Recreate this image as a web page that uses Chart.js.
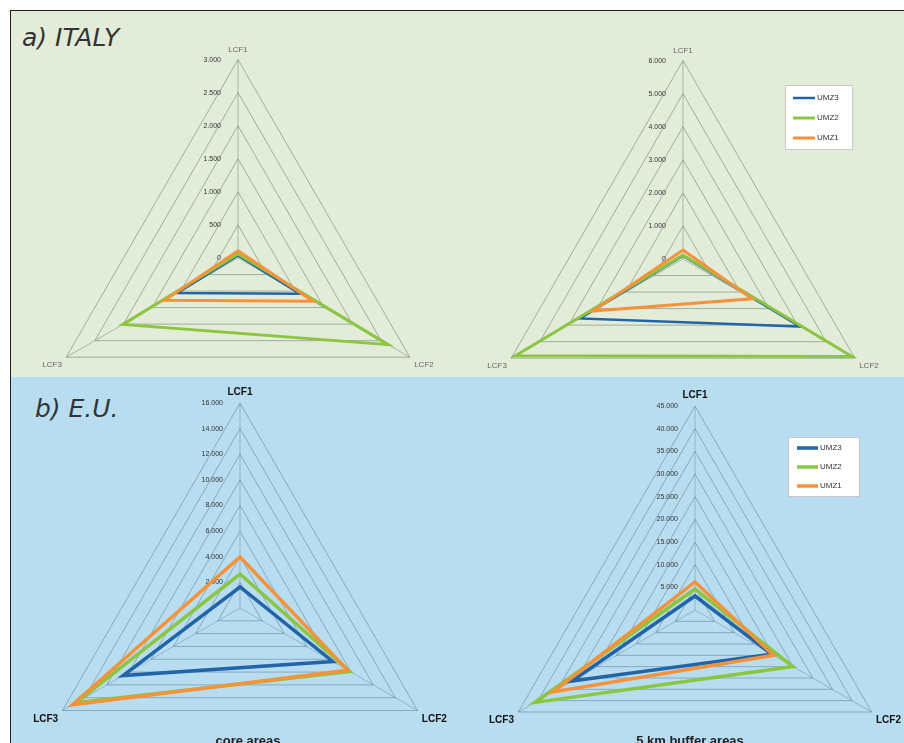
<!DOCTYPE html>
<html>
<head>
<meta charset="utf-8">
<script src="https://cdn.jsdelivr.net/npm/chart.js@4/dist/chart.umd.min.js"></script>
<style>
  html, body { margin: 0; padding: 0; background: #ffffff; }
  #fig { position: relative; width: 904px; height: 743px; overflow: hidden; background: #ffffff; }
  .panel { position: absolute; left: 10px; right: 0; }
  #panelA { top: 10px; height: 366px; background: #e2ecd9; border-top: 1px solid #222; border-left: 1px solid #222; }
  #panelB { top: 377px; bottom: 0; background: #b8ddf0; border-left: 1px solid #222; }
  .ptitle { position: absolute; font-family: "DejaVu Sans", sans-serif; font-style: italic;
            font-size: 25px; line-height: 25px; color: #333; white-space: nowrap; }
  .ctitle { position: absolute; font-family: "Liberation Sans", Arial, sans-serif; font-weight: bold;
            font-size: 13px; line-height: 13px; color: #222; white-space: nowrap; transform: translateX(-50%); }
  canvas { position: absolute; }
</style>
</head>
<body>
<div id="fig">
  <div class="panel" id="panelA"></div>
  <div class="panel" id="panelB"></div>
  <div class="ptitle" style="left:22px; top:25px;">a) ITALY</div>
  <div class="ptitle" style="left:35px; top:396px;">b) E.U.</div>
  <canvas id="itCore"></canvas>
  <canvas id="itBuf"></canvas>
  <canvas id="euCore"></canvas>
  <canvas id="euBuf"></canvas>
  <div class="ctitle" style="left:248px; top:734px;">core areas</div>
  <div class="ctitle" style="left:690px; top:734px;">5 km buffer areas</div>
</div>
<script>
// Radar axes (clockwise from the top) and series names
const axisLabels = ['LCF1', 'LCF2', 'LCF3'];
const seriesNames = ['UMZ3', 'UMZ2', 'UMZ1'];

// a) Italy – core areas
const itCoreTicks = [0, 500, 1000, 1500, 2000, 2500, 3000];
const itCoreUMZ3 = [40, 1080, 1060];
const itCoreUMZ2 = [60, 2620, 2010];
const itCoreUMZ1 = [110, 1310, 1280];

// a) Italy – 5 km buffer areas
const itBufTicks = [0, 1000, 2000, 3000, 4000, 5000, 6000];
const itBufUMZ3 = [100, 4090, 3600];
const itBufUMZ2 = [120, 5900, 5850];
const itBufUMZ1 = [270, 2410, 3150];

// b) E.U. – core areas
const euCoreTicks = [0, 2000, 4000, 6000, 8000, 10000, 12000, 14000, 16000];
const euCoreUMZ3 = [1640, 8350, 10540];
const euCoreUMZ2 = [2650, 9900, 14800];
const euCoreUMZ1 = [3980, 9700, 15100];

// b) E.U. – 5 km buffer areas
const euBufTicks = [0, 5000, 10000, 15000, 20000, 25000, 30000, 35000, 40000, 45000];
const euBufUMZ3 = [3090, 19500, 31330];
const euBufUMZ2 = [4630, 24950, 40760];
const euBufUMZ1 = [6180, 20000, 36180];

const seriesColors = ['#2264a8', '#8cc540', '#f5923a'];

// Italian number style: 1.000, 16.000 …
function fmtIt(v) { return String(v).replace(/\B(?=(\d{3})+(?!\d))/g, '.'); }

// Value labels written to the left of the vertical (LCF1) axis
const sideTicks = {
  id: 'sideTicks',
  beforeDatasetsDraw(chart, args, o) {
    const s = chart.scales.r, ctx = chart.ctx;
    ctx.save();
    ctx.font = o.txtFont;
    ctx.fillStyle = o.txtColor;
    ctx.textAlign = 'right';
    ctx.textBaseline = 'middle';
    s.ticks.forEach(t => {
      if (t.value === 0 && !o.showZero) return;
      const d = s.getDistanceFromCenterForValue(t.value);
      ctx.fillText(fmtIt(t.value), s.xCenter - o.gap, s.yCenter - d);
    });
    ctx.restore();
  }
};

// Boxed legend placed inside the plot, to the upper right
const boxLegend = {
  id: 'boxLegend',
  afterDraw(chart, args, o) {
    if (!o.show) return;
    const s = chart.scales.r, ctx = chart.ctx;
    const x = s.xCenter + o.dx, y = s.yCenter + o.dy;
    ctx.save();
    ctx.fillStyle = '#ffffff';
    ctx.fillRect(x, y, o.w, o.h);
    ctx.strokeStyle = '#c9c9c9';
    ctx.lineWidth = 1;
    ctx.strokeRect(x + 0.5, y + 0.5, o.w - 1, o.h - 1);
    ctx.font = o.txtFont;
    ctx.textBaseline = 'middle';
    chart.data.datasets.forEach((ds, i) => {
      const yy = y + o.first + i * o.rowGap;
      ctx.strokeStyle = ds.borderColor;
      ctx.lineWidth = ds.borderWidth;
      ctx.beginPath();
      ctx.moveTo(x + o.lineX0, yy);
      ctx.lineTo(x + o.lineX1, yy);
      ctx.stroke();
      ctx.fillStyle = '#333';
      ctx.fillText(ds.label, x + o.lineX1 + 2, yy);
    });
    ctx.restore();
  }
};

// Size and place a canvas so the radar has the wanted centre and radius
function place(canvas, cx, cy, R, labelSize, labelPad) {
  const m = labelSize * 1.2 + labelPad;
  const half = Math.ceil(R + m);
  const H = half * 2, W = H + 120;
  canvas.width = W; canvas.height = H;
  canvas.style.width = W + 'px'; canvas.style.height = H + 'px';
  canvas.style.left = (cx - W / 2) + 'px';
  canvas.style.top = (cy - half - Math.floor(m / 2)) + 'px';
}

function radar(id, geo, ticks, values, look, legend) {
  const el = document.getElementById(id);
  place(el, geo.cx, geo.cy, geo.R, look.labelSize, look.labelPad);
  const datasets = values.map((v, i) => ({
    label: seriesNames[i],
    data: v,
    borderColor: seriesColors[i],
    borderWidth: look.lineWidths[i],
    backgroundColor: 'transparent',
    fill: false,
    pointRadius: 0,
    pointHoverRadius: 0,
    borderJoinStyle: 'miter',
    order: 3 - i
  }));
  return new Chart(el, {
    type: 'radar',
    data: { labels: axisLabels, datasets },
    options: {
      responsive: false,
      devicePixelRatio: 1,
      animation: false,
      events: [],
      layout: { padding: 0 },
      plugins: {
        legend: { display: false },
        tooltip: { enabled: false },
        title: { display: false },
        sideTicks: { txtFont: '7px "Liberation Sans", Arial', txtColor: '#333', gap: look.tickGap, showZero: look.showZero },
        boxLegend: legend || { show: false }
      },
      scales: {
        r: {
          min: ticks[0],
          max: ticks[ticks.length - 1],
          ticks: { stepSize: ticks[1] - ticks[0], display: false },
          grid: { circular: false, color: look.gridColor, lineWidth: 1 },
          angleLines: { display: true, color: look.angleColor, lineWidth: 1 },
          pointLabels: {
            display: true,
            padding: look.labelPad,
            color: look.labelColor,
            font: { family: '"Liberation Sans", Arial', size: look.labelSize, weight: look.labelWeight, lineHeight: 1.2 }
          }
        }
      }
    },
    plugins: [sideTicks, boxLegend]
  });
}

const lookItaly = {
  labelSize: 8, labelPad: 5, labelColor: '#666', labelWeight: 'normal',
  gridColor: 'rgba(115,135,115,0.6)', angleColor: 'rgba(115,135,115,0.5)',
  lineWidths: [2.5, 3, 3], tickGap: 17, showZero: true
};
const lookEU = {
  labelSize: 10, labelPad: 5, labelColor: '#111', labelWeight: 'bold',
  gridColor: 'rgba(90,120,140,0.5)', angleColor: 'rgba(90,120,140,0.4)',
  lineWidths: [3.5, 3.5, 3.5], tickGap: 17, showZero: false
};

radar('itCore', { cx: 238, cy: 258, R: 198 }, itCoreTicks,
      [itCoreUMZ3, itCoreUMZ2, itCoreUMZ1], lookItaly);
radar('itBuf', { cx: 683, cy: 259, R: 198 }, itBufTicks,
      [itBufUMZ3, itBufUMZ2, itBufUMZ1], lookItaly,
      { show: true, dx: 102, dy: -174, w: 68, h: 65, first: 13, rowGap: 20,
        lineX0: 8, lineX1: 30, txtFont: '8px "Liberation Sans", Arial' });
radar('euCore', { cx: 240, cy: 608, R: 205 }, euCoreTicks,
      [euCoreUMZ3, euCoreUMZ2, euCoreUMZ1], lookEU);
radar('euBuf', { cx: 695, cy: 610, R: 204 }, euBufTicks,
      [euBufUMZ3, euBufUMZ2, euBufUMZ1], lookEU,
      { show: true, dx: 93, dy: -173, w: 72, h: 60, first: 11, rowGap: 19,
        lineX0: 9, lineX1: 30, txtFont: '8px "Liberation Sans", Arial' });
</script>
</body>
</html>
